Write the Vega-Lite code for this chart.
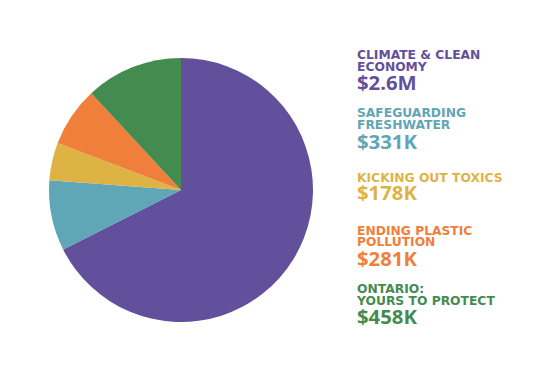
{
  "$schema": "https://vega.github.io/schema/vega-lite/v6.json",
  "padding": {"top": 3, "left": 0, "right": 0, "bottom": 0},
  "spacing": 0,
  "bounds": "flush",
  "background": "white",
  "config": {"view": {"stroke": null}},
  "data": {
    "values": [
      {"category": "Climate & Clean Economy", "label": "CLIMATE & CLEAN\nECONOMY", "amount": "$2.6M", "value": 2600, "rank": 1, "lines": 2},
      {"category": "Safeguarding Freshwater", "label": "SAFEGUARDING\nFRESHWATER", "amount": "$331K", "value": 331, "rank": 2, "lines": 2},
      {"category": "Kicking Out Toxics", "label": "KICKING OUT TOXICS", "amount": "$178K", "value": 178, "rank": 3, "lines": 1},
      {"category": "Ending Plastic Pollution", "label": "ENDING PLASTIC\nPOLLUTION", "amount": "$281K", "value": 281, "rank": 4, "lines": 2},
      {"category": "Ontario: Yours to Protect", "label": "ONTARIO:\nYOURS TO PROTECT", "amount": "$458K", "value": 458, "rank": 5, "lines": 2}
    ]
  },
  "hconcat": [
    {
      "width": 362,
      "height": 374,
      "mark": {"type": "arc", "radius": 132},
      "encoding": {
        "theta": {"field": "value", "type": "quantitative", "stack": true},
        "order": {"field": "rank", "type": "quantitative"},
        "color": {
          "field": "category",
          "type": "nominal",
          "scale": {
            "domain": ["Climate & Clean Economy", "Safeguarding Freshwater", "Kicking Out Toxics", "Ending Plastic Pollution", "Ontario: Yours to Protect"],
            "range": ["#62509C", "#5FA6B6", "#DDB443", "#F07F3B", "#448B50"]
          },
          "legend": null
        }
      }
    },
    {
      "width": 191,
      "height": 368,
      "encoding": {
        "y": {
          "field": "category",
          "type": "nominal",
          "sort": {"field": "rank", "op": "min"},
          "scale": {"type": "band", "paddingInner": 0, "paddingOuter": 0.644},
          "axis": null
        },
        "x": {"value": 0},
        "color": {
          "field": "category",
          "type": "nominal",
          "scale": {
            "domain": ["Climate & Clean Economy", "Safeguarding Freshwater", "Kicking Out Toxics", "Ending Plastic Pollution", "Ontario: Yours to Protect"],
            "range": ["#62509C", "#5FA6B6", "#DDB443", "#F07F3B", "#448B50"]
          },
          "legend": null
        }
      },
      "layer": [
        {
          "transform": [{"filter": "datum.lines == 2"}],
          "mark": {"type": "text", "align": "left", "baseline": "alphabetic", "font": "DejaVu Sans", "fontWeight": "bold", "fontSize": 12.3, "lineHeight": 11.7, "lineBreak": "\n", "dx": -5, "dy": -11},
          "encoding": {"text": {"field": "label"}}
        },
        {
          "transform": [{"filter": "datum.lines == 1"}],
          "mark": {"type": "text", "align": "left", "baseline": "alphabetic", "font": "DejaVu Sans", "fontWeight": "bold", "fontSize": 12.3, "lineHeight": 11.7, "lineBreak": "\n", "dx": -5, "dy": -5},
          "encoding": {"text": {"field": "label"}}
        },
        {
          "transform": [{"filter": "datum.lines == 2"}],
          "mark": {"type": "text", "align": "left", "baseline": "alphabetic", "font": "Open Sans", "fontWeight": "bold", "fontSize": 20.3, "dx": -5, "dy": 20.4},
          "encoding": {"text": {"field": "amount"}}
        },
        {
          "transform": [{"filter": "datum.lines == 1"}],
          "mark": {"type": "text", "align": "left", "baseline": "alphabetic", "font": "Open Sans", "fontWeight": "bold", "fontSize": 20.3, "dx": -5, "dy": 13.3},
          "encoding": {"text": {"field": "amount"}}
        }
      ]
    }
  ]
}
